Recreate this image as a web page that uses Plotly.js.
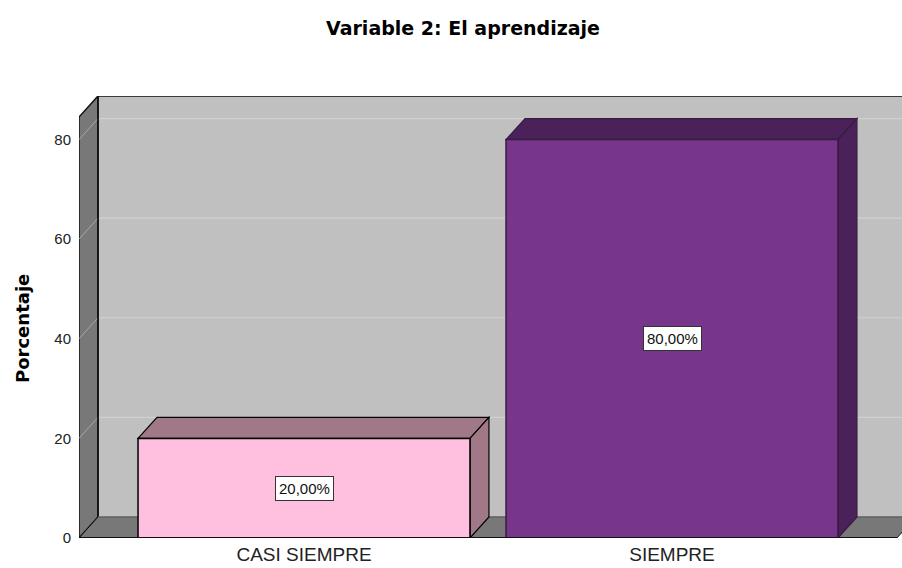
<!DOCTYPE html>
<html>
<head>
<meta charset="utf-8">
<script src="https://cdn.plot.ly/plotly-3.0.1.min.js"></script>
<style>
html,body{margin:0;padding:0;background:#fff;}
#chart{width:902px;height:568px;}
</style>
</head>
<body>
<div id="chart"></div>
<script>
// ---- data ----
const categories = ['CASI SIEMPRE', 'SIEMPRE'];
const percentages = [20, 80];
const valueLabels = ['20,00%', '80,00%'];
const yTickValues = [0, 20, 40, 60, 80];

// ---- styles ----
const frontColors = ['#FFC0E0', '#77368A'];
const shadeColors = ['#A07888', '#4A2158'];
const edgeColors = ['#000000', '#3A1A46'];
const FONT = 'Liberation Sans, Arial, sans-serif';

// ---- 3D geometry (axis units) ----
const X0 = -0.6114, XMAX = 1.625, YMAX = 88.75;
const DX = 0.0516, DY = 4.22;     // depth offset
const BW = 0.902;                 // bar width
const FLOOR_END = 1.611;
const WALL_TOP = YMAX - DY;

const xs = categories.map((c, i) => i);

function poly(pts) {
  return 'M ' + pts.map(p => p[0] + ',' + p[1]).join(' L ') + ' Z';
}

const shapes = [];
// back wall
shapes.push({type: 'path', xref: 'x', yref: 'y', layer: 'below',
  path: poly([[X0 + DX, DY], [XMAX + 0.05, DY], [XMAX + 0.05, YMAX], [X0 + DX, YMAX]]),
  fillcolor: '#C0C0C0', line: {width: 0}});
// grid lines on back wall and left wall
yTickValues.filter(v => v > 0).forEach(v => {
  shapes.push({type: 'line', xref: 'x', yref: 'y', layer: 'below',
    x0: X0 + DX, x1: XMAX + 0.05, y0: v + DY, y1: v + DY,
    line: {color: '#D0D0D0', width: 1.2}});
});
// left wall
shapes.push({type: 'path', xref: 'x', yref: 'y', layer: 'below',
  path: poly([[X0, 0], [X0 + DX, DY], [X0 + DX, YMAX], [X0, WALL_TOP]]),
  fillcolor: '#787878', line: {color: '#111', width: 1.5}});
yTickValues.filter(v => v > 0).forEach(v => {
  shapes.push({type: 'line', xref: 'x', yref: 'y', layer: 'below',
    x0: X0, x1: X0 + DX, y0: v, y1: v + DY,
    line: {color: '#A8A8A8', width: 1}});
});
// floor
shapes.push({type: 'path', xref: 'x', yref: 'y', layer: 'below',
  path: poly([[X0, 0], [FLOOR_END, 0], [FLOOR_END + DX, DY], [X0 + DX, DY]]),
  fillcolor: '#787878', line: {color: '#111', width: 1}});
// back wall edges
shapes.push({type: 'line', xref: 'x', yref: 'y', layer: 'below',
  x0: X0 + DX, x1: X0 + DX, y0: DY, y1: YMAX, line: {color: '#111', width: 1.5}});
shapes.push({type: 'line', xref: 'x', yref: 'y', layer: 'below',
  x0: X0 + DX, x1: XMAX + 0.05, y0: YMAX, y1: YMAX, line: {color: '#111', width: 1.5}});
shapes.push({type: 'line', xref: 'x', yref: 'y', layer: 'below',
  x0: X0 + DX, x1: XMAX + 0.05, y0: DY, y1: DY, line: {color: '#8A8A8A', width: 1}});
// front floor edge
shapes.push({type: 'line', xref: 'x', yref: 'y', layer: 'above',
  x0: X0, x1: FLOOR_END, y0: 0, y1: 0, line: {color: '#111', width: 2}});

// bar top and side faces
percentages.forEach((v, i) => {
  const l = xs[i] - BW / 2, r = xs[i] + BW / 2;
  shapes.push({type: 'path', xref: 'x', yref: 'y', layer: 'below',
    path: poly([[l, v], [l + DX, v + DY], [r + DX, v + DY], [r, v]]),
    fillcolor: shadeColors[i], line: {color: edgeColors[i], width: 1.2}});
  shapes.push({type: 'path', xref: 'x', yref: 'y', layer: 'below',
    path: poly([[r, 0], [r + DX, DY], [r + DX, v + DY], [r, v]]),
    fillcolor: shadeColors[i], line: {color: edgeColors[i], width: 1.2}});
});

const trace = {
  type: 'bar',
  x: xs,
  y: percentages,
  width: BW,
  marker: {color: frontColors, line: {color: edgeColors, width: 1.5}},
  hoverinfo: 'skip'
};

const annotations = percentages.map((v, i) => ({
  x: xs[i], y: v / 2, xref: 'x', yref: 'y',
  text: valueLabels[i], showarrow: false,
  bgcolor: '#FFFFFF', bordercolor: '#333333', borderwidth: 1, borderpad: 3,
  font: {family: FONT, size: 15, color: '#111'}
}));
annotations.push({
  xref: 'paper', yref: 'paper', x: (22 - 79) / 823, y: (538 - 328) / 442,
  text: 'Porcentaje', textangle: -90, showarrow: false,
  xanchor: 'center', yanchor: 'middle',
  font: {family: 'DejaVu Sans, ' + FONT, size: 18, weight: 700, color: '#000'}
});

const layout = {
  width: 902, height: 568,
  margin: {l: 79, r: 0, t: 96, b: 30, pad: 0},
  paper_bgcolor: '#FFFFFF', plot_bgcolor: 'rgba(0,0,0,0)',
  showlegend: false,
  title: {
    text: 'Variable 2: El aprendizaje',
    x: 463 / 902, xref: 'container', xanchor: 'center',
    y: 1 - 28 / 568, yref: 'container', yanchor: 'middle',
    font: {family: 'DejaVu Sans, ' + FONT, size: 19, weight: 700, color: '#000'}
  },
  xaxis: {
    range: [X0, XMAX], tickvals: xs, ticktext: categories,
    showgrid: false, zeroline: false, showline: false, ticks: '',
    ticklabelstandoff: 3,
    tickfont: {family: FONT, size: 19, color: '#222'}, fixedrange: true
  },
  yaxis: {
    range: [0, YMAX], tickvals: yTickValues,
    showgrid: false, zeroline: false, showline: false, ticks: '',
    ticklabelstandoff: 7,
    tickfont: {family: FONT, size: 15, color: '#222'}, fixedrange: true
  },
  shapes: shapes,
  annotations: annotations
};

Plotly.newPlot('chart', [trace], layout, {displayModeBar: false, staticPlot: true});
</script>
</body>
</html>
